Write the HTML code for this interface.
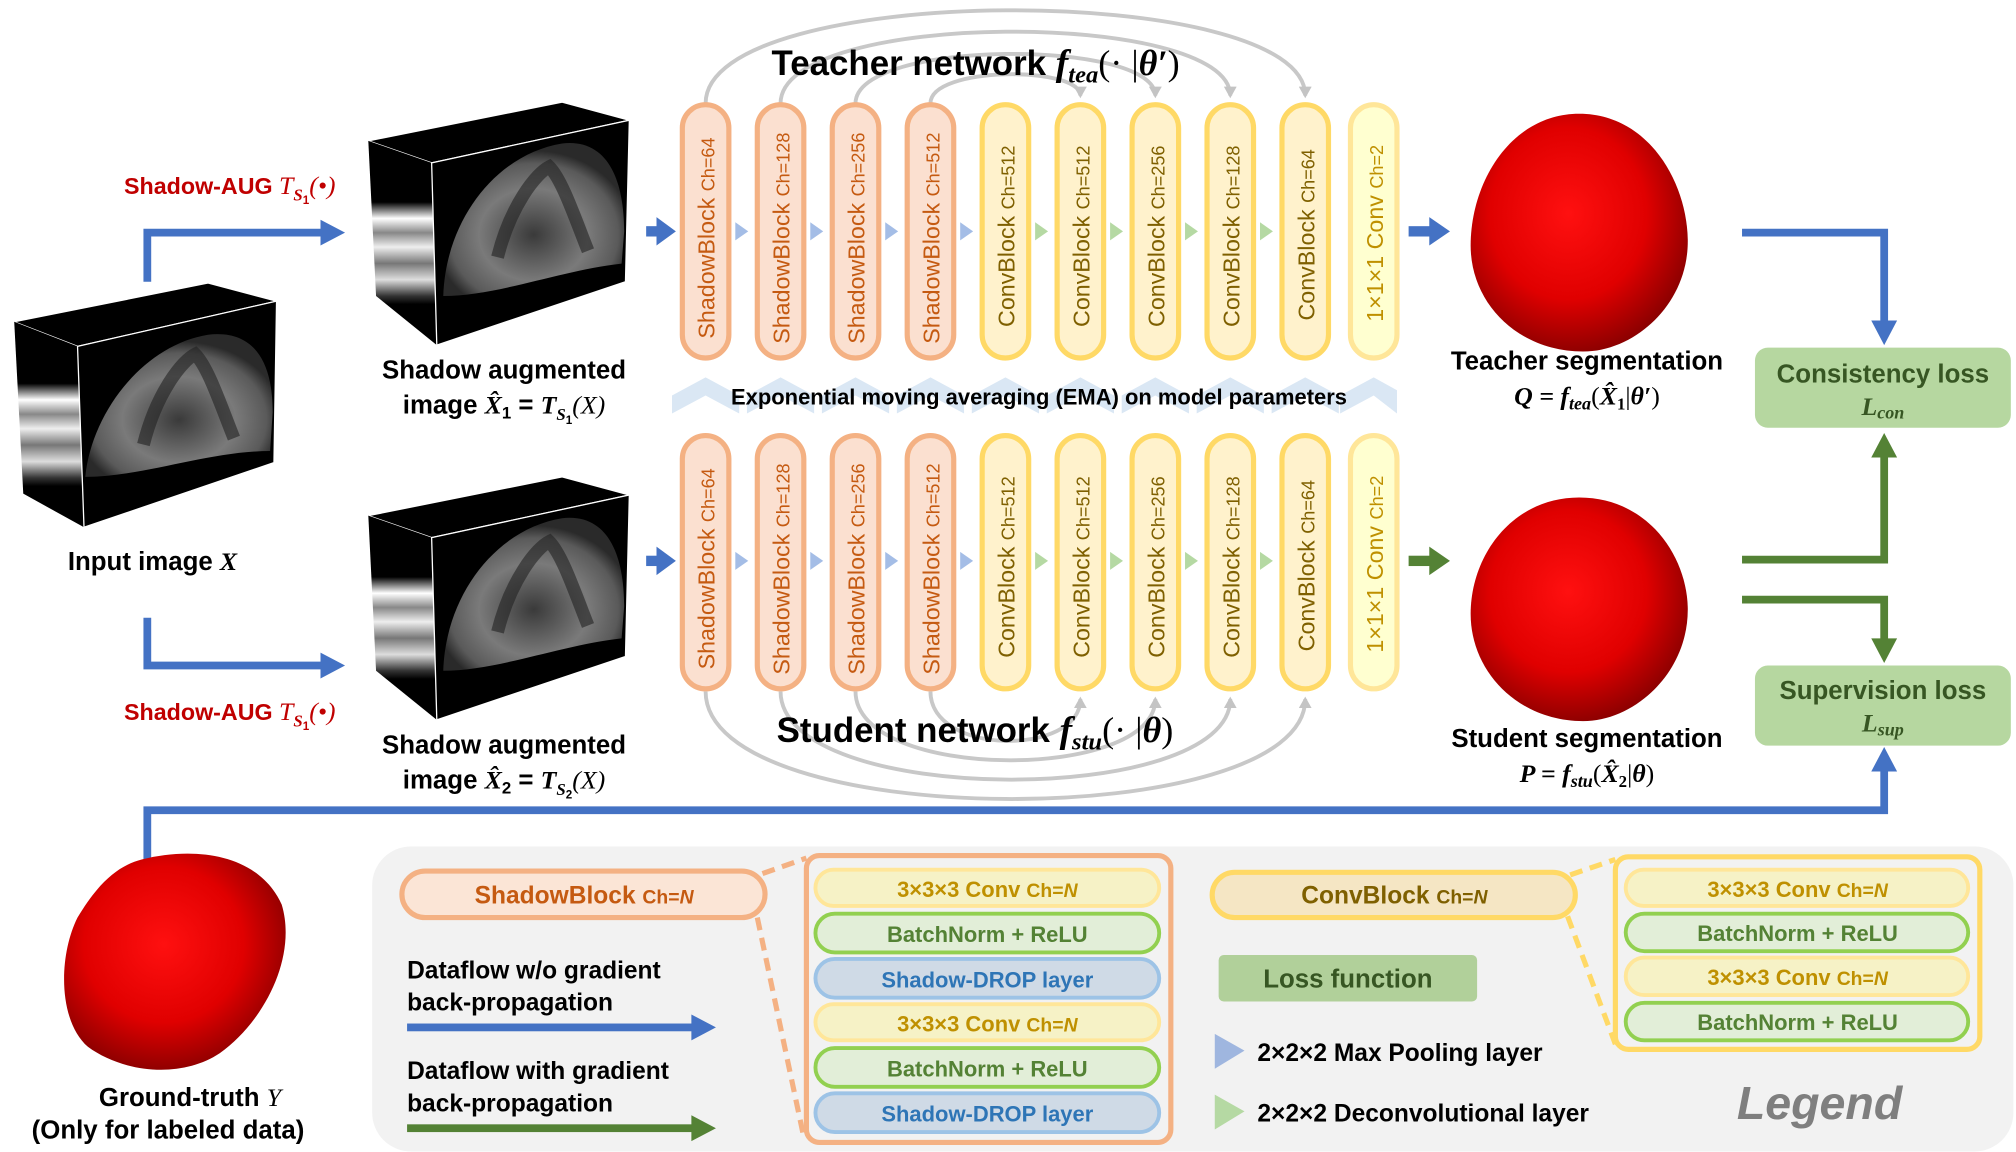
<!DOCTYPE html>
<html><head><meta charset="utf-8"><style>
html,body{margin:0;padding:0;background:#fff;}
svg{display:block;}
text{font-family:"Liberation Sans",Arial,sans-serif;}
.m{font-family:"Liberation Serif",serif;font-style:italic;}
</style></head><body>
<svg width="2016" height="1152" viewBox="0 0 1560 891.4" xmlns="http://www.w3.org/2000/svg">
<defs>
<radialGradient id="blob" cx="0.45" cy="0.42" r="0.6">
<stop offset="0" stop-color="#ff1010"/><stop offset="0.6" stop-color="#e00000"/><stop offset="1" stop-color="#8a0000"/>
</radialGradient>
<radialGradient id="us" cx="0.5" cy="0.6" r="0.55">
<stop offset="0" stop-color="#3a3a3a"/><stop offset="0.55" stop-color="#7a7a7a"/><stop offset="0.85" stop-color="#5a5a5a"/><stop offset="1" stop-color="#2a2a2a"/>
</radialGradient>
<linearGradient id="stripe" x1="0" y1="0" x2="0" y2="1">
<stop offset="0" stop-color="#000"/><stop offset="0.3" stop-color="#000"/><stop offset="0.38" stop-color="#fff"/><stop offset="0.45" stop-color="#888"/><stop offset="0.52" stop-color="#eee"/><stop offset="0.6" stop-color="#777"/><stop offset="0.68" stop-color="#ddd"/><stop offset="0.76" stop-color="#333"/><stop offset="0.8" stop-color="#000"/><stop offset="1" stop-color="#000"/>
</linearGradient>
<marker id="ga" markerUnits="userSpaceOnUse" markerWidth="10" markerHeight="10" refX="7" refY="5" orient="auto"><path d="M0,0 L9,5 L0,10 Z" fill="#c4c4c4"/></marker>
<g id="cube">
<polygon points="0,30 150,0 202,14 49,47" fill="#000" stroke="#fff" stroke-width="1"/>
<polygon points="0,30 49,47 53,188 6,150" fill="url(#stripe)"/>
<polygon points="49,47 202,14 199,139 53,188" fill="#000" stroke="#fff" stroke-width="1"/>
<path d="M58,150 C60,90 100,40 150,32 C185,28 198,60 198,100 L196,125 C150,130 100,150 58,150 Z" fill="url(#us)"/>
<path d="M100,120 C110,80 130,55 140,50 C150,60 160,90 170,115" fill="none" stroke="#222" stroke-width="10" opacity="0.6"/>
</g>
<g id="cubeIn">
<polygon points="0,30 150,0 203,14 49,49" fill="#000" stroke="#fff" stroke-width="1"/>
<polygon points="0,30 49,49 54,189 7,163" fill="url(#stripe)"/>
<polygon points="49,49 203,14 201,139 54,189" fill="#000" stroke="#fff" stroke-width="1"/>
<path d="M55,150 C60,100 100,48 150,40 C185,36 200,60 200,100 L198,130 C150,130 100,150 55,150 Z" fill="url(#us)"/>
<path d="M100,125 C110,85 130,60 140,55 C150,65 160,95 170,120" fill="none" stroke="#222" stroke-width="10" opacity="0.6"/>
</g>
</defs>

<use href="#cubeIn" x="11" y="219"/>
<use href="#cube" x="285" y="79"/>
<use href="#cube" x="285" y="369"/>

<g fill="none" stroke="#4472c4" stroke-width="6">
<path d="M114,218 V180 H250"/>
<path d="M114,478 V515 H250"/>
<path d="M114,668 V627 H1458 V595"/>
</g>
<g fill="#4472c4">
<polygon points="248,170 267,180 248,190"/>
<polygon points="248,505 267,515 248,525"/>
<polygon points="1448,597 1458,578 1468,597"/>
</g>
<text x="96" y="150" font-size="18" font-weight="bold" fill="#c00000">Shadow-AUG <tspan class="m" font-weight="normal" font-size="20">T</tspan><tspan class="m" font-size="13" dy="5">S</tspan><tspan font-size="9" dy="3">1</tspan><tspan class="m" font-size="20" font-weight="normal" font-style="normal" dy="-8">(•)</tspan></text>
<text x="96" y="557" font-size="18" font-weight="bold" fill="#c00000">Shadow-AUG <tspan class="m" font-weight="normal" font-size="20">T</tspan><tspan class="m" font-size="13" dy="5">S</tspan><tspan font-size="9" dy="3">1</tspan><tspan class="m" font-size="20" font-weight="normal" font-style="normal" dy="-8">(•)</tspan></text>

<text x="118" y="441" font-size="20" font-weight="bold" text-anchor="middle">Input image <tspan class="m">X</tspan></text>
<text x="390" y="293" font-size="20" font-weight="bold" text-anchor="middle">Shadow augmented</text>
<text x="390" y="320" font-size="20" font-weight="bold" text-anchor="middle">image <tspan class="m" font-weight="bold">X̂</tspan><tspan font-size="13" dy="4">1</tspan><tspan dy="-4"> = </tspan><tspan class="m">T</tspan><tspan class="m" font-size="13" dy="5">S</tspan><tspan font-size="9" dy="3">1</tspan><tspan class="m" font-weight="normal" dy="-8">(X)</tspan></text>
<text x="390" y="583" font-size="20" font-weight="bold" text-anchor="middle">Shadow augmented</text>
<text x="390" y="610" font-size="20" font-weight="bold" text-anchor="middle">image <tspan class="m" font-weight="bold">X̂</tspan><tspan font-size="13" dy="4">2</tspan><tspan dy="-4"> = </tspan><tspan class="m">T</tspan><tspan class="m" font-size="13" dy="5">S</tspan><tspan font-size="9" dy="3">2</tspan><tspan class="m" font-weight="normal" dy="-8">(X)</tspan></text>

<g fill="none" stroke="#c8c8c8" stroke-width="3">
<path d="M546,80 C546,-15 1010,-15 1010,74" marker-end="url(#ga)"/>
<path d="M604,80 C604,7 952,7 952,74" marker-end="url(#ga)"/>
<path d="M662,80 C662,30 894,30 894,74" marker-end="url(#ga)"/>
<path d="M720,80 C720,51 836,51 836,74" marker-end="url(#ga)"/>
<path d="M546,535 C546,645 1010,645 1010,541" marker-end="url(#ga)"/>
<path d="M604,535 C604,625 952,625 952,541" marker-end="url(#ga)"/>
<path d="M662,535 C662,605 894,605 894,541" marker-end="url(#ga)"/>
<path d="M720,535 C720,585 836,585 836,541" marker-end="url(#ga)"/>
</g>
<text x="597" y="58" font-size="27" font-weight="bold">Teacher network <tspan class="m" font-size="29">f</tspan><tspan class="m" font-size="19" dy="6">tea</tspan><tspan font-family="Liberation Serif" font-weight="normal" font-size="28" dy="-6">(· |</tspan><tspan class="m" font-size="28">θ′</tspan><tspan font-family="Liberation Serif" font-weight="normal" font-size="28">)</tspan></text>
<text x="601" y="574" font-size="27" font-weight="bold">Student network <tspan class="m" font-size="29">f</tspan><tspan class="m" font-size="19" dy="6">stu</tspan><tspan font-family="Liberation Serif" font-weight="normal" font-size="28" dy="-6">(· |</tspan><tspan class="m" font-size="28">θ</tspan><tspan font-family="Liberation Serif" font-weight="normal" font-size="28">)</tspan></text>

<g fill="#dae7f4">
<polygon points="520,306 546,292 572,306 572,320 546,306 520,320"/>
<polygon points="578,306 604,292 630,306 630,320 604,306 578,320"/>
<polygon points="636,306 662,292 688,306 688,320 662,306 636,320"/>
<polygon points="694,306 720,292 746,306 746,320 720,306 694,320"/>
<polygon points="752,306 778,292 804,306 804,320 778,306 752,320"/>
<polygon points="810,306 836,292 862,306 862,320 836,306 810,320"/>
<polygon points="868,306 894,292 920,306 920,320 894,306 868,320"/>
<polygon points="926,306 952,292 978,306 978,320 952,306 926,320"/>
<polygon points="984,306 1010,292 1036,306 1036,320 1010,306 984,320"/>
<polygon points="1037,306 1063,292 1081,302 1081,320 1063,306 1037,320"/>
</g>
<text x="804" y="313" font-size="17" font-weight="bold" text-anchor="middle">Exponential moving averaging (EMA) on model parameters</text>

<g stroke-width="4">
<rect x="528" y="81" width="36" height="196" rx="18" fill="#fbe0d0" stroke="#f4b183"/>
<rect x="586" y="81" width="36" height="196" rx="18" fill="#fbe0d0" stroke="#f4b183"/>
<rect x="644" y="81" width="36" height="196" rx="18" fill="#fbe0d0" stroke="#f4b183"/>
<rect x="702" y="81" width="36" height="196" rx="18" fill="#fbe0d0" stroke="#f4b183"/>
<rect x="760" y="81" width="36" height="196" rx="18" fill="#fff2cc" stroke="#ffd966"/>
<rect x="818" y="81" width="36" height="196" rx="18" fill="#fff2cc" stroke="#ffd966"/>
<rect x="876" y="81" width="36" height="196" rx="18" fill="#fff2cc" stroke="#ffd966"/>
<rect x="934" y="81" width="36" height="196" rx="18" fill="#fff2cc" stroke="#ffd966"/>
<rect x="992" y="81" width="36" height="196" rx="18" fill="#fff2cc" stroke="#ffd966"/>
<rect x="1045" y="81" width="36" height="196" rx="18" fill="#ffffd0" stroke="#ffe699"/>
<rect x="528" y="337" width="36" height="196" rx="18" fill="#fbe0d0" stroke="#f4b183"/>
<rect x="586" y="337" width="36" height="196" rx="18" fill="#fbe0d0" stroke="#f4b183"/>
<rect x="644" y="337" width="36" height="196" rx="18" fill="#fbe0d0" stroke="#f4b183"/>
<rect x="702" y="337" width="36" height="196" rx="18" fill="#fbe0d0" stroke="#f4b183"/>
<rect x="760" y="337" width="36" height="196" rx="18" fill="#fff2cc" stroke="#ffd966"/>
<rect x="818" y="337" width="36" height="196" rx="18" fill="#fff2cc" stroke="#ffd966"/>
<rect x="876" y="337" width="36" height="196" rx="18" fill="#fff2cc" stroke="#ffd966"/>
<rect x="934" y="337" width="36" height="196" rx="18" fill="#fff2cc" stroke="#ffd966"/>
<rect x="992" y="337" width="36" height="196" rx="18" fill="#fff2cc" stroke="#ffd966"/>
<rect x="1045" y="337" width="36" height="196" rx="18" fill="#ffffd0" stroke="#ffe699"/>
</g>
<g font-size="18" fill="#c55a11">
<text transform="translate(553,262) rotate(-90)">ShadowBlock <tspan font-size="14">Ch=64</tspan></text>
<text transform="translate(611,266) rotate(-90)">ShadowBlock <tspan font-size="14">Ch=128</tspan></text>
<text transform="translate(669,266) rotate(-90)">ShadowBlock <tspan font-size="14">Ch=256</tspan></text>
<text transform="translate(727,266) rotate(-90)">ShadowBlock <tspan font-size="14">Ch=512</tspan></text>
<text transform="translate(553,518) rotate(-90)">ShadowBlock <tspan font-size="14">Ch=64</tspan></text>
<text transform="translate(611,522) rotate(-90)">ShadowBlock <tspan font-size="14">Ch=128</tspan></text>
<text transform="translate(669,522) rotate(-90)">ShadowBlock <tspan font-size="14">Ch=256</tspan></text>
<text transform="translate(727,522) rotate(-90)">ShadowBlock <tspan font-size="14">Ch=512</tspan></text>
</g>
<g font-size="18" fill="#7f6000">
<text transform="translate(785,253) rotate(-90)">ConvBlock <tspan font-size="14">Ch=512</tspan></text>
<text transform="translate(843,253) rotate(-90)">ConvBlock <tspan font-size="14">Ch=512</tspan></text>
<text transform="translate(901,253) rotate(-90)">ConvBlock <tspan font-size="14">Ch=256</tspan></text>
<text transform="translate(959,253) rotate(-90)">ConvBlock <tspan font-size="14">Ch=128</tspan></text>
<text transform="translate(1017,248) rotate(-90)">ConvBlock <tspan font-size="14">Ch=64</tspan></text>
<text transform="translate(785,509) rotate(-90)">ConvBlock <tspan font-size="14">Ch=512</tspan></text>
<text transform="translate(843,509) rotate(-90)">ConvBlock <tspan font-size="14">Ch=512</tspan></text>
<text transform="translate(901,509) rotate(-90)">ConvBlock <tspan font-size="14">Ch=256</tspan></text>
<text transform="translate(959,509) rotate(-90)">ConvBlock <tspan font-size="14">Ch=128</tspan></text>
<text transform="translate(1017,504) rotate(-90)">ConvBlock <tspan font-size="14">Ch=64</tspan></text>
</g>
<g font-size="18" fill="#bf9000">
<text transform="translate(1070,249) rotate(-90)">1×1×1 Conv <tspan font-size="14">Ch=2</tspan></text>
<text transform="translate(1070,505) rotate(-90)">1×1×1 Conv <tspan font-size="14">Ch=2</tspan></text>
</g>
<g fill="#a4bde6">
<polygon points="569,172 579,179 569,186"/><polygon points="627,172 637,179 627,186"/><polygon points="685,172 695,179 685,186"/><polygon points="743,172 753,179 743,186"/>
<polygon points="569,427 579,434 569,441"/><polygon points="627,427 637,434 627,441"/><polygon points="685,427 695,434 685,441"/><polygon points="743,427 753,434 743,441"/>
</g>
<g fill="#b5d9a3">
<polygon points="801,172 811,179 801,186"/><polygon points="859,172 869,179 859,186"/><polygon points="917,172 927,179 917,186"/><polygon points="975,172 985,179 975,186"/>
<polygon points="801,427 811,434 801,441"/><polygon points="859,427 869,434 859,441"/><polygon points="917,427 927,434 917,441"/><polygon points="975,427 985,434 975,441"/>
</g>
<g fill="#4472c4"><rect x="500" y="175" width="10" height="8"/><polygon points="508,168 523,179 508,190"/>
<rect x="500" y="430" width="10" height="8"/><polygon points="508,423 523,434 508,445"/>
<rect x="1090" y="175" width="18" height="8"/><polygon points="1106,168 1122,179 1106,190"/></g>
<g fill="#548235"><rect x="1090" y="430" width="18" height="8"/><polygon points="1106,423 1122,434 1106,445"/></g>

<path d="M1222,88 C1275,88 1305,140 1306,185 C1307,235 1265,272 1225,272 C1175,272 1138,235 1138,190 C1138,140 1170,88 1222,88 Z" fill="url(#blob)"/>
<path d="M1222,385 C1275,385 1305,430 1306,470 C1307,520 1265,558 1225,558 C1175,558 1138,520 1138,475 C1138,430 1170,385 1222,385 Z" fill="url(#blob)"/>
<path d="M110,665 C150,655 200,660 218,700 C230,740 205,790 170,815 C140,835 95,830 68,810 C45,790 45,740 60,710 C75,685 90,670 110,665 Z" fill="url(#blob)"/>

<text x="1228" y="286" font-size="20" font-weight="bold" text-anchor="middle">Teacher segmentation</text>
<text x="1228" y="313" font-size="20" text-anchor="middle" class="m" font-weight="bold">Q = f<tspan font-size="14" dy="4">tea</tspan><tspan dy="-4" font-style="normal" font-weight="normal">(</tspan>X̂<tspan font-size="13" dy="4" font-style="normal">1</tspan><tspan dy="-4" font-style="normal" font-weight="normal">|</tspan>θ′<tspan font-style="normal" font-weight="normal">)</tspan></text>
<text x="1228" y="578" font-size="20" font-weight="bold" text-anchor="middle">Student segmentation</text>
<text x="1228" y="605" font-size="20" text-anchor="middle" class="m" font-weight="bold">P = f<tspan font-size="14" dy="4">stu</tspan><tspan dy="-4" font-style="normal" font-weight="normal">(</tspan>X̂<tspan font-size="13" dy="4" font-style="normal">2</tspan><tspan dy="-4" font-style="normal" font-weight="normal">|</tspan>θ<tspan font-style="normal" font-weight="normal">)</tspan></text>
<text x="147" y="856" font-size="20" font-weight="bold" text-anchor="middle">Ground-truth <tspan class="m" font-weight="normal">Y</tspan></text>
<text x="130" y="881" font-size="20" font-weight="bold" text-anchor="middle">(Only for labeled data)</text>

<path d="M1348,180 H1458 V250" fill="none" stroke="#4472c4" stroke-width="6"/>
<polygon points="1448,248 1458,267 1468,248" fill="#4472c4"/>
<g fill="none" stroke="#548235" stroke-width="6"><path d="M1348,433 H1458 V352"/><path d="M1348,464 H1458 V496"/></g>
<g fill="#548235"><polygon points="1448,354 1458,335 1468,354"/><polygon points="1448,494 1458,513 1468,494"/></g>
<rect x="1358" y="269" width="198" height="62" rx="10" fill="#b6d7a0"/>
<text x="1457" y="296" font-size="20" font-weight="bold" fill="#375623" text-anchor="middle">Consistency loss</text>
<text x="1457" y="321" font-size="20" fill="#375623" text-anchor="middle" class="m" font-weight="bold">L<tspan font-size="14" dy="3">con</tspan></text>
<rect x="1358" y="515" width="198" height="62" rx="10" fill="#b6d7a0"/>
<text x="1457" y="541" font-size="20" font-weight="bold" fill="#375623" text-anchor="middle">Supervision loss</text>
<text x="1457" y="566" font-size="20" fill="#375623" text-anchor="middle" class="m" font-weight="bold">L<tspan font-size="14" dy="3">sup</tspan></text>

<rect x="288" y="655" width="1270" height="236" rx="30" fill="#f2f2f2"/>
<rect x="311" y="674" width="281" height="36" rx="18" fill="#fbe5d6" stroke="#f4b183" stroke-width="4"/>
<text x="452" y="699" font-size="19" font-weight="bold" fill="#c55a11" text-anchor="middle">ShadowBlock <tspan font-size="15">Ch=</tspan><tspan font-size="15" font-style="italic">N</tspan></text>
<g stroke="#f4b183" stroke-width="4" stroke-dasharray="10,6" fill="none"><path d="M590,676 L624,664"/><path d="M586,710 L622,880"/></g>
<rect x="624" y="662" width="282" height="222" rx="10" fill="#f2f2f2" stroke="#f4b183" stroke-width="4"/>
<g stroke-width="3">
<rect x="631" y="673" width="266" height="28" rx="14" fill="#f6f2c6" stroke="#ffe699"/>
<rect x="631" y="707" width="266" height="30" rx="15" fill="#e2eed8" stroke="#92d050"/>
<rect x="631" y="742" width="266" height="30" rx="15" fill="#cfdae6" stroke="#9dc3e6"/>
<rect x="631" y="777" width="266" height="28" rx="14" fill="#f6f2c6" stroke="#ffe699"/>
<rect x="631" y="811" width="266" height="30" rx="15" fill="#e2eed8" stroke="#92d050"/>
<rect x="631" y="846" width="266" height="30" rx="15" fill="#cfdae6" stroke="#9dc3e6"/>
</g>
<g font-size="17" font-weight="bold" text-anchor="middle">
<text x="764" y="694" fill="#bf9000">3×3×3 Conv <tspan font-size="15">Ch=<tspan font-style="italic">N</tspan></tspan></text>
<text x="764" y="729" fill="#548235">BatchNorm + ReLU</text>
<text x="764" y="764" fill="#2e75b6">Shadow-DROP layer</text>
<text x="764" y="798" fill="#bf9000">3×3×3 Conv <tspan font-size="15">Ch=<tspan font-style="italic">N</tspan></tspan></text>
<text x="764" y="833" fill="#548235">BatchNorm + ReLU</text>
<text x="764" y="868" fill="#2e75b6">Shadow-DROP layer</text>
</g>
<g font-size="19" font-weight="bold">
<text x="315" y="757">Dataflow w/o gradient</text>
<text x="315" y="782">back-propagation</text>
<text x="315" y="835">Dataflow with gradient</text>
<text x="315" y="860">back-propagation</text>
</g>
<rect x="315" y="792" width="222" height="6" fill="#4472c4"/><polygon points="535,785 554,795 535,805" fill="#4472c4"/>
<rect x="315" y="870" width="222" height="6" fill="#548235"/><polygon points="535,863 554,873 535,883" fill="#548235"/>

<rect x="938" y="675" width="281" height="35" rx="17.5" fill="#f5e6c4" stroke="#ffd966" stroke-width="4"/>
<text x="1079" y="699" font-size="19" font-weight="bold" fill="#7f6000" text-anchor="middle">ConvBlock <tspan font-size="15">Ch=<tspan font-style="italic">N</tspan></tspan></text>
<g stroke="#ffd966" stroke-width="4" stroke-dasharray="10,6" fill="none"><path d="M1215,677 L1250,665"/><path d="M1213,709 L1250,808"/></g>
<rect x="1250" y="663" width="282" height="149" rx="10" fill="#f2f2f2" stroke="#ffd966" stroke-width="4"/>
<g stroke-width="3">
<rect x="1258" y="673" width="265" height="28" rx="14" fill="#f6f2c6" stroke="#ffe699"/>
<rect x="1258" y="707" width="265" height="29" rx="14.5" fill="#e2eed8" stroke="#92d050"/>
<rect x="1258" y="741" width="265" height="29" rx="14.5" fill="#f6f2c6" stroke="#ffe699"/>
<rect x="1258" y="776" width="265" height="29" rx="14.5" fill="#e2eed8" stroke="#92d050"/>
</g>
<g font-size="17" font-weight="bold" text-anchor="middle">
<text x="1391" y="694" fill="#bf9000">3×3×3 Conv <tspan font-size="15">Ch=<tspan font-style="italic">N</tspan></tspan></text>
<text x="1391" y="728" fill="#548235">BatchNorm + ReLU</text>
<text x="1391" y="762" fill="#bf9000">3×3×3 Conv <tspan font-size="15">Ch=<tspan font-style="italic">N</tspan></tspan></text>
<text x="1391" y="797" fill="#548235">BatchNorm + ReLU</text>
</g>
<rect x="943" y="739" width="200" height="36" rx="4" fill="#b1d09a"/>
<text x="1043" y="764" font-size="20" font-weight="bold" fill="#375623" text-anchor="middle">Loss function</text>
<polygon points="940,800 963,813 940,827" fill="#9fb6df"/>
<text x="973" y="821" font-size="19" font-weight="bold">2×2×2 Max Pooling layer</text>
<polygon points="940,847 963,860 940,874" fill="#b5d9a3"/>
<text x="973" y="868" font-size="19" font-weight="bold">2×2×2 Deconvolutional layer</text>
<text x="1344" y="866" font-size="36" font-weight="bold" font-style="italic" fill="#7f7f7f">Legend</text>
</svg>
</body></html>
